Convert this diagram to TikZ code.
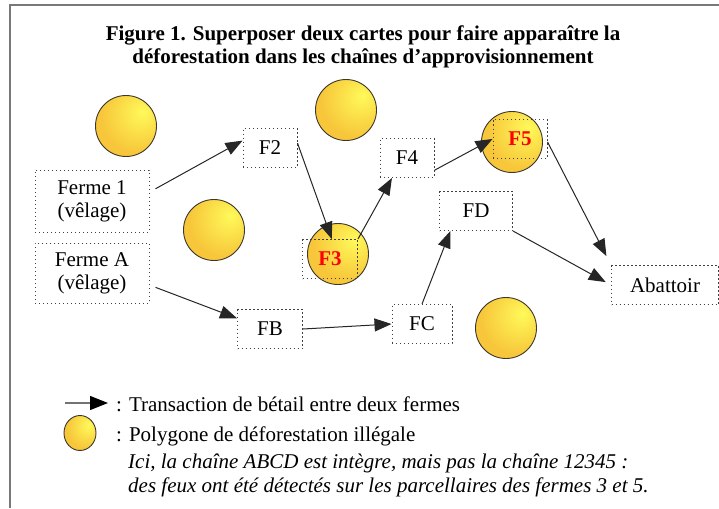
\documentclass[tikz,border=0pt]{standalone}
\usepackage{fontspec}
\setmainfont{Liberation Serif}
\usepackage{tikz}
\usetikzlibrary{arrows.meta,shapes.geometric}

\newcommand{\bodysize}{\fontsize{21}{23}\selectfont}
\definecolor{hiyellow}{RGB}{255,250,90}
\definecolor{loyellow}{RGB}{247,198,58}
\definecolor{rimgray}{RGB}{60,55,45}
\definecolor{framegray}{RGB}{120,120,120}
\pgfdeclareradialshading{fireblob}{\pgfpoint{14bp}{12bp}}{color(0bp)=(hiyellow); color(30bp)=(loyellow); color(90bp)=(loyellow)}

\begin{document}
\begin{tikzpicture}[x=1pt,y=-1pt,font=\bodysize,
		farm/.style={rectangle, draw=black!75, line width=1pt, dash pattern=on 1.2pt off 2.8pt, inner sep=0pt, minimum height=39pt},
		hole/.style={circle, draw=rimgray, line width=0.9pt, shading=fireblob, minimum size=61pt, inner sep=0pt},
		hot/.style={text=red, font=\bodysize\bfseries},
		flow/.style={-{Triangle[length=17pt,width=13pt]}, line width=1pt, black!85}]
		\useasboundingbox (0,0) rectangle (719,508);
		\draw[framegray, line width=2pt] (10,508) -- (10,5) -- (719,5);

		\node[font=\bodysize\bfseries, align=center, anchor=north] (title) at (363,22) {Figure 1. Superposer deux cartes pour faire apparaître la\\déforestation dans les chaînes d’approvisionnement};

		% deforestation polygons
		\node[hole] (p1) at (126,126) {};
		\node[hole] (p2) at (346,110) {};
		\node[hole] (p3) at (214,230) {};
		\node[hole] (p4) at (338,254) {};
		\node[hole] (p5) at (512,142) {};
		\node[hole] (p6) at (506,328) {};

		% farms
		\node[farm, minimum width=114pt, minimum height=62pt, align=center] (f1) at (92,201) {Ferme 1\\(vêlage)};
		\node[farm, minimum width=114pt, minimum height=60pt, align=center] (fa) at (92,273) {Ferme A\\(vêlage)};
		\node[farm, minimum width=54pt] (f2) at (270,148) {F2};
		\node[farm, minimum width=55pt, hot] (f3) at (330,259) {F3};
		\node[farm, minimum width=54pt] (f4) at (407,158) {F4};
		\node[farm, minimum width=54pt, hot] (f5) at (520,139) {F5};
		\node[farm, minimum width=65pt] (fb) at (270,329) {FB};
		\node[farm, minimum width=60pt] (fc) at (422,324) {FC};
		\node[farm, minimum width=73pt] (fd) at (476,211) {FD};
		\node[farm, minimum width=107pt] (ab) at (665,285) {Abattoir};

		\path[flow]
			([xshift=6pt]f1.12)	edge	(f2.165)
			(f2.10)	edge	(f3.85)
			(f3.north east)	edge	(f4.233)
			(f4.-24)	edge	(f5.west)
			(f5.-6)	edge	[shorten >=10pt]	(ab.north west)
			([xshift=6pt]fa.-14)	edge	(fb.162)
			(fb.east)	edge	(fc.west)
			(fc.north)	edge	(fd.218)
			(fd.south east)	edge	[shorten >=6pt]	(ab.west);

		% legend
		\coordinate (k0) at (65,403);
		\coordinate (k1) at (108,403);
		\draw[line width=1.2pt, draw=black!55, -{Triangle[length=18pt,width=14pt,color=black]}] (k0) -- (k1);
		\node[hole, ellipse, minimum width=32pt, minimum height=35pt] (k2) at (80,433) {};
		\node[anchor=base west, inner sep=0pt] (k1txt) at (116,411) {: Transaction de bétail entre deux fermes};
		\node[anchor=base west, inner sep=0pt] (k2txt) at (116,441) {: Polygone de déforestation illégale};
		\node[anchor=north west, inner sep=0pt, align=left, font=\fontsize{21}{24}\selectfont\itshape] (note) at (128,454) {Ici, la chaîne ABCD est intègre, mais pas la chaîne 12345 :\\des feux ont été détectés sur les parcellaires des fermes 3 et 5.};
	\end{tikzpicture}
\end{document}
